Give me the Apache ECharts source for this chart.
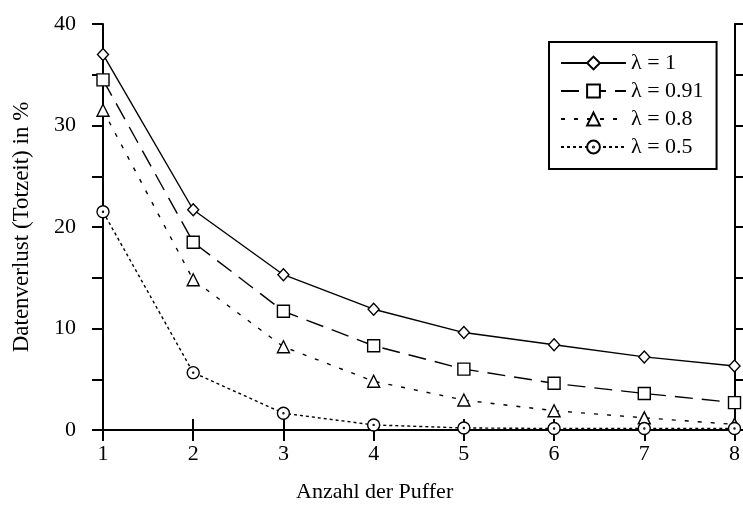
<!DOCTYPE html>
<html>
<head>
<meta charset="utf-8">
<script src="https://cdn.jsdelivr.net/npm/echarts@6/dist/echarts.min.js"></script>
<style>
  html, body { margin: 0; padding: 0; background: #fff; }
  #main { width: 743px; height: 508px; }
</style>
</head>
<body>
<div id="main"></div>
<script>
// Anzahl der Puffer
var puffer = [1, 2, 3, 4, 5, 6, 7, 8];
// Datenverlust in % fuer die einzelnen lambda
var lambda1   = [37.0, 21.7, 15.3, 11.9, 9.6, 8.4, 7.2, 6.3];
var lambda091 = [34.5, 18.5, 11.7, 8.3, 6.0, 4.6, 3.6, 2.7];
var lambda08  = [31.5, 14.8, 8.2, 4.8, 2.95, 1.9, 1.2, 0.55];
var lambda05  = [21.5, 5.65, 1.65, 0.5, 0.2, 0.15, 0.15, 0.15];
var names = ['λ = 1', 'λ = 0.91', 'λ = 0.8', 'λ = 0.5'];
var yTicks = [0, 10, 20, 30, 40];

var font = 'Liberation Serif';
// kreis mit punkt in der mitte
var dotCircle = 'path://M0,-10A10,10 0 1,1 0,10A10,10 0 1,1 0,-10ZM0,-0.8A0.8,0.8 0 1,1 0,0.8A0.8,0.8 0 1,1 0,-0.8Z';

function pairs(vals) {
    var out = [];
    for (var i = 0; i < puffer.length; i++) out.push([puffer[i], vals[i]]);
    return out;
}

function makeSeries(name, vals, symbol, size, dash) {
    return {
        name: name,
        type: 'line',
        data: pairs(vals),
        symbol: symbol,
        symbolSize: size,
        showAllSymbol: true,
        clip: false,
        itemStyle: { color: '#fff', borderColor: '#000', borderWidth: 1.4 },
        lineStyle: { color: '#000', width: 1.4, type: dash },
        emphasis: { disabled: true },
        z: 3
    };
}

var myChart = echarts.init(document.getElementById('main'));
var option = {
    animation: false,
    backgroundColor: '#fff',
    grid: { left: 103, right: 2, top: 24, bottom: 78 },
    legend: {
        data: names,
        orient: 'vertical',
        left: 549,
        top: 42,
        padding: [10, 13, 11, 11],
        itemWidth: 65,
        itemHeight: 16,
        itemGap: 6,
        borderColor: '#000',
        borderWidth: 2,
        borderRadius: 0,
        backgroundColor: '#fff',
        textStyle: { fontFamily: font, fontSize: 22, color: '#000', lineHeight: 22 }
    },
    xAxis: [{
        type: 'value', position: 'bottom', min: 1, max: 8, interval: 1,
        axisLine: { lineStyle: { color: '#000', width: 2 } },
        axisTick: { inside: false, length: 11, lineStyle: { color: '#000', width: 2 } },
        axisLabel: { margin: 13, fontFamily: font, fontSize: 22, color: '#000' },
        splitLine: { show: false }
    }, {
        type: 'value', position: 'top', min: 1, max: 8, interval: 1,
        axisLine: { lineStyle: { color: '#000', width: 2 } },
        axisTick: { inside: false, length: 11, lineStyle: { color: '#000', width: 2 } },
        axisLabel: { show: false },
        splitLine: { show: false }
    }],
    yAxis: [{
        type: 'value', position: 'left', min: 0, max: 40, interval: 5,
        name: 'Datenverlust (Totzeit) in %',
        nameLocation: 'middle',
        nameGap: 70,
        nameTextStyle: { fontFamily: font, fontSize: 23, color: '#000' },
        axisLine: { lineStyle: { color: '#000', width: 2 } },
        axisTick: { inside: false, length: 11, lineStyle: { color: '#000', width: 2 } },
        axisLabel: {
            margin: 27, fontFamily: font, fontSize: 22, color: '#000',
            formatter: function (v) { return yTicks.indexOf(v) >= 0 ? String(v) : ''; }
        },
        splitLine: { show: false }
    }, {
        type: 'value', position: 'right', min: 0, max: 40, interval: 5,
        axisLine: { lineStyle: { color: '#000', width: 2 } },
        axisTick: { inside: false, length: 11, lineStyle: { color: '#000', width: 2 } },
        axisLabel: { show: false },
        splitLine: { show: false }
    }],
    graphic: [{
        type: 'text',
        left: 296,
        top: 481,
        style: { text: 'Anzahl der Puffer', fontFamily: font, fontSize: 22, fill: '#000' }
    }],
    series: [
        makeSeries(names[0], lambda1, 'diamond', [11, 12], 'solid'),
        makeSeries(names[1], lambda091, 'rect', 12, [18, 9]),
        makeSeries(names[2], lambda08, 'triangle', 12, [4, 9]),
        makeSeries(names[3], lambda05, dotCircle, 12, [3, 3])
    ]
};
myChart.setOption(option);
</script>
</body>
</html>
